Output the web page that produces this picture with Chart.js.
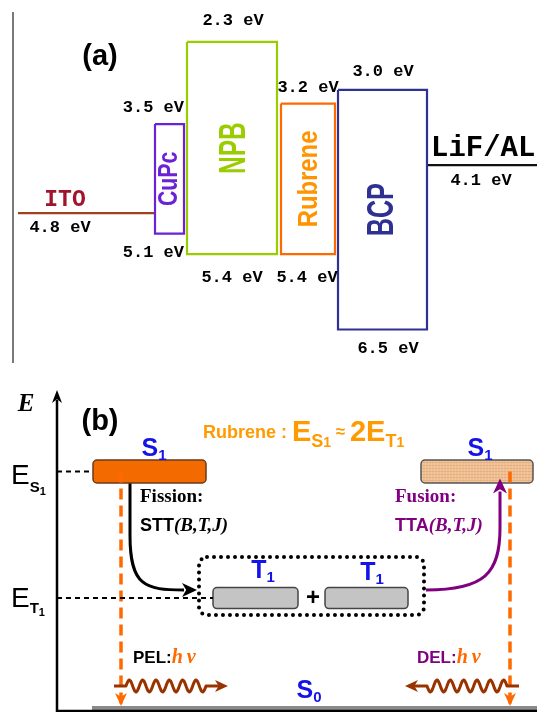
<!DOCTYPE html>
<html>
<head>
<meta charset="utf-8">
<script src="https://cdn.jsdelivr.net/npm/chart.js@4.4.0/dist/chart.umd.min.js"></script>
<style>
  html, body { margin: 0; padding: 0; background: #fff; }
  #diagram { display: block; }
</style>
</head>
<body>
<canvas id="diagram" width="537" height="712"></canvas>
<script>
// panel (a): energy levels of the device layers, in eV
var layerNames = ['CuPc', 'NPB', 'Rubrene', 'BCP'];
var lumoEV = [3.5, 2.3, 3.2, 3.0];
var homoEV = [5.1, 5.4, 5.4, 6.5];
var electrodeNames = ['ITO', 'LiF/AL'];
var workFunctionEV = [4.8, 4.1];

// panel (b): state energies, in units of E(T1)
var stateNames = ['S0', 'T1', 'S1'];
var stateEnergy = [0, 1, 2.15];

// layout (schematic x positions, colours)
var layerLeft = [155, 187, 281, 338];
var layerRight = [184, 277, 335, 427];
var layerColors = ['#6b21d6', '#9acd00', '#ff6a00', '#2e3192'];
var layerTextColors = ['#6b21d6', '#9acd00', '#ff9400', '#2e3192'];
var electrodeLeft = [18, 427];
var electrodeRight = [155, 537];
var electrodeColors = ['#a0401e', '#111111'];

var s1Left = [93, 421], s1Right = [206, 533];
var t1Left = [213, 325], t1Right = [298, 408];
var axisX = 57;
var emissionX = [121, 510];

var BLUE = '#1414e6', ORANGE = '#ff9a00', PURPLE = '#800080', BROWN = '#993300', DASH_ORANGE = '#ff6a00';
var MONO = '"Liberation Mono", "DejaVu Sans Mono", monospace';
var SANS = '"Liberation Sans", Arial, sans-serif';
var SERIF = '"Liberation Serif", "Times New Roman", serif';

function rectPoints(left, right, top, bottom) {
    return [{x: left, y: top}, {x: right, y: top}, {x: right, y: bottom}, {x: left, y: bottom}, {x: left, y: top}];
}

function lineSet(label, axis, pts, color, width, dash) {
    return {
        label: label, yAxisID: axis, data: pts,
        borderColor: color, borderWidth: width, borderDash: dash || [],
        showLine: true, pointRadius: 0, tension: 0, fill: false,
        borderJoinStyle: 'miter', borderCapStyle: 'butt'
    };
}

var datasets = [];
layerNames.forEach(function (name, i) {
    datasets.push(lineSet(name, 'ya', rectPoints(layerLeft[i], layerRight[i], lumoEV[i], homoEV[i]), layerColors[i], 2.2));
});
electrodeNames.forEach(function (name, i) {
    datasets.push(lineSet(name, 'ya', [{x: electrodeLeft[i], y: workFunctionEV[i]}, {x: electrodeRight[i], y: workFunctionEV[i]}], electrodeColors[i], 2.2));
});
// guide lines to the energy axis
datasets.push(lineSet('E_S1', 'yb', [{x: axisX, y: stateEnergy[2]}, {x: s1Left[0], y: stateEnergy[2]}], '#000', 2, [5, 4]));
datasets.push(lineSet('E_T1', 'yb', [{x: axisX, y: stateEnergy[1]}, {x: t1Left[0], y: stateEnergy[1]}], '#000', 2, [5, 4]));
// ground state bar
datasets.push(lineSet('S0', 'yb', [{x: 92, y: stateEnergy[0]}, {x: 537, y: stateEnergy[0]}], '#8a8a8a', 4));
// emission (S1 -> S0) dashed lines
emissionX.forEach(function (x, i) {
    datasets.push(lineSet(i ? 'DEL' : 'PEL', 'yb', [{x: x, y: stateEnergy[2]}, {x: x, y: stateEnergy[0]}], DASH_ORANGE, 3.5, [11, 6]));
});

function rrect(ctx, x, y, w, h, r) {
    ctx.beginPath();
    ctx.moveTo(x + r, y);
    ctx.arcTo(x + w, y, x + w, y + h, r);
    ctx.arcTo(x + w, y + h, x, y + h, r);
    ctx.arcTo(x, y + h, x, y, r);
    ctx.arcTo(x, y, x + w, y, r);
    ctx.closePath();
}

function arrowHead(ctx, x, y, ang, len, hw, color) {
    ctx.save();
    ctx.translate(x, y);
    ctx.rotate(ang);
    ctx.beginPath();
    ctx.moveTo(0, 0);
    ctx.lineTo(-len, -hw);
    ctx.lineTo(-len * 0.72, 0);
    ctx.lineTo(-len, hw);
    ctx.closePath();
    ctx.fillStyle = color;
    ctx.fill();
    ctx.restore();
}

function text(ctx, str, x, y, font, color, align, base) {
    ctx.font = font;
    ctx.fillStyle = color;
    ctx.textAlign = align || 'left';
    ctx.textBaseline = base || 'alphabetic';
    ctx.fillText(str, x, y);
}

// several runs of text (for subscripts / mixed fonts) on one baseline
function runs(ctx, x, y, parts, align) {
    var total = 0;
    ctx.textAlign = 'left';
    ctx.textBaseline = 'alphabetic';
    parts.forEach(function (p) { ctx.font = p[1]; total += ctx.measureText(p[0]).width; });
    var cx = align === 'center' ? x - total / 2 : (align === 'right' ? x - total : x);
    parts.forEach(function (p) {
        ctx.font = p[1];
        ctx.fillStyle = p[2];
        ctx.fillText(p[0], cx, y + (p[3] || 0));
        cx += ctx.measureText(p[0]).width;
    });
}

function vtext(ctx, str, cx, cy, font, color, squash) {
    ctx.save();
    ctx.translate(cx, cy);
    ctx.rotate(-Math.PI / 2);
    ctx.scale(squash, 1);
    text(ctx, str, 0, 0, font, color, 'center', 'middle');
    ctx.restore();
}

function wavyArrow(ctx, xStart, xTip, y, dir) {
    var head = 13;
    var w0 = xStart + dir * 12;
    var w1 = xTip - dir * (head + 9);
    ctx.save();
    ctx.strokeStyle = BROWN;
    ctx.lineWidth = 3;
    ctx.lineJoin = 'round';
    ctx.beginPath();
    ctx.moveTo(xStart, y);
    ctx.lineTo(w0, y);
    var n = 90;
    for (var k = 0; k <= n; k++) {
        var t = k / n;
        ctx.lineTo(w0 + (w1 - w0) * t, y - 6 * Math.sin(t * 6 * 2 * Math.PI));
    }
    ctx.lineTo(xTip - dir * head * 0.7, y);
    ctx.stroke();
    ctx.restore();
    arrowHead(ctx, xTip, y, dir > 0 ? 0 : Math.PI, head, 6, BROWN);
}

var schematicPlugin = {
    id: 'schematic',
    beforeDatasetsDraw: function (chart) {
        var ctx = chart.ctx, yb = chart.scales.yb;
        var yS1 = yb.getPixelForValue(stateEnergy[2]);
        var yT1 = yb.getPixelForValue(stateEnergy[1]);
        ctx.save();
        // dotted frame around the triplet pair
        ctx.strokeStyle = '#000';
        ctx.lineWidth = 4;
        ctx.lineCap = 'round';
        ctx.setLineDash([0, 7]);
        rrect(ctx, 199, yT1 - 41, 225, 58, 8);
        ctx.stroke();
        ctx.setLineDash([]);
        // S1 (fission side)
        rrect(ctx, s1Left[0], yS1 - 11.5, s1Right[0] - s1Left[0], 23, 4);
        ctx.fillStyle = '#f26a00';
        ctx.fill();
        ctx.strokeStyle = '#6b3a1a';
        ctx.lineWidth = 1.5;
        ctx.stroke();
        // S1 (fusion side), hatched tan
        rrect(ctx, s1Left[1], yS1 - 11.5, s1Right[1] - s1Left[1], 23, 4);
        ctx.fillStyle = '#f3c89c';
        ctx.fill();
        ctx.save();
        ctx.clip();
        ctx.strokeStyle = 'rgba(214,150,100,0.45)';
        ctx.lineWidth = 0.8;
        for (var gx = s1Left[1]; gx < s1Right[1]; gx += 3) {
            ctx.beginPath(); ctx.moveTo(gx, yS1 - 12); ctx.lineTo(gx, yS1 + 12); ctx.stroke();
        }
        for (var gy = yS1 - 12; gy < yS1 + 12; gy += 3) {
            ctx.beginPath(); ctx.moveTo(s1Left[1], gy); ctx.lineTo(s1Right[1], gy); ctx.stroke();
        }
        ctx.restore();
        rrect(ctx, s1Left[1], yS1 - 11.5, s1Right[1] - s1Left[1], 23, 4);
        ctx.strokeStyle = '#555';
        ctx.lineWidth = 1.5;
        ctx.stroke();
        // T1 + T1
        for (var i = 0; i < 2; i++) {
            rrect(ctx, t1Left[i], yT1 - 10.5, t1Right[i] - t1Left[i], 21, 4);
            ctx.fillStyle = '#c4c4c4';
            ctx.fill();
            ctx.strokeStyle = '#444';
            ctx.lineWidth = 1.5;
            ctx.stroke();
        }
        ctx.restore();
    },
    afterDatasetsDraw: function (chart) {
        var ctx = chart.ctx, ya = chart.scales.ya, yb = chart.scales.yb;
        var YA = function (v) { return ya.getPixelForValue(v); };
        var YB = function (v) { return yb.getPixelForValue(v); };
        ctx.save();

        // ---------- panel (a) ----------
        ctx.strokeStyle = '#7a7a7a';
        ctx.lineWidth = 2;
        ctx.beginPath(); ctx.moveTo(13, 12); ctx.lineTo(13, 363); ctx.stroke();
        text(ctx, '(a)', 100, 65, 'bold 29px ' + SANS, '#000', 'center');

        var ev = 'bold 17px ' + MONO;
        var fmt = function (v) { return v.toFixed(1) + ' eV'; };
        // CuPc
        text(ctx, fmt(lumoEV[0]), 184, YA(lumoEV[0]) - 16, ev, '#000', 'right', 'middle');
        text(ctx, fmt(homoEV[0]), 184, YA(homoEV[0]) + 19, ev, '#000', 'right', 'middle');
        // NPB, Rubrene, BCP
        text(ctx, fmt(lumoEV[1]), 233, YA(lumoEV[1]) - 21, ev, '#000', 'center', 'middle');
        text(ctx, fmt(homoEV[1]), 232, YA(homoEV[1]) + 24, ev, '#000', 'center', 'middle');
        text(ctx, fmt(lumoEV[2]), 308, YA(lumoEV[2]) - 16, ev, '#000', 'center', 'middle');
        text(ctx, fmt(homoEV[2]), 307, YA(homoEV[2]) + 24, ev, '#000', 'center', 'middle');
        text(ctx, fmt(lumoEV[3]), 383, YA(lumoEV[3]) - 18, ev, '#000', 'center', 'middle');
        text(ctx, fmt(homoEV[3]), 388, YA(homoEV[3]) + 19, ev, '#000', 'center', 'middle');
        // electrodes
        text(ctx, electrodeNames[0], 65, YA(workFunctionEV[0]) - 13, 'bold 23px ' + MONO, '#a0142c', 'center', 'middle');
        text(ctx, fmt(workFunctionEV[0]), 60, YA(workFunctionEV[0]) + 15, ev, '#000', 'center', 'middle');
        text(ctx, electrodeNames[1], 431, YA(workFunctionEV[1]) - 16, 'bold 29px ' + MONO, '#000', 'left', 'middle');
        text(ctx, fmt(workFunctionEV[1]), 481, YA(workFunctionEV[1]) + 16, ev, '#000', 'center', 'middle');
        // layer names, rotated
        var vfonts = ['bold 28px ', 'bold 36px ', 'bold 28px ', 'bold 37px '];
        var squash = [0.76, 0.68, 0.85, 0.68];
        var dx = [0, 3, 1, 0];
        layerNames.forEach(function (name, i) {
            var cx = (layerLeft[i] + layerRight[i]) / 2 + dx[i];
            var cy = (YA(lumoEV[i]) + YA(homoEV[i])) / 2;
            vtext(ctx, name, cx, cy, vfonts[i] + SANS, layerTextColors[i], squash[i]);
        });

        // ---------- panel (b) ----------
        var yS1 = YB(stateEnergy[2]), yT1 = YB(stateEnergy[1]), yS0 = YB(stateEnergy[0]);
        // energy axis
        ctx.strokeStyle = '#000';
        ctx.lineWidth = 2.5;
        ctx.beginPath(); ctx.moveTo(axisX, 712); ctx.lineTo(axisX, 400); ctx.stroke();
        arrowHead(ctx, axisX, 390, -Math.PI / 2, 13, 5, '#000');
        ctx.beginPath(); ctx.moveTo(axisX - 1, 711); ctx.lineTo(537, 711); ctx.stroke();
        text(ctx, 'E', 26, 411, 'italic bold 25px ' + SERIF, '#000', 'center');
        text(ctx, '(b)', 100, 430, 'bold 29px ' + SANS, '#000', 'center');

        // axis labels E_S1, E_T1
        runs(ctx, 11, yS1 + 12, [['E', '28px ' + SANS, '#000'], ['S', 'bold 15px ' + SANS, '#000', 8], ['1', 'bold 11px ' + SANS, '#000', 11]]);
        runs(ctx, 11, yT1 + 9, [['E', '28px ' + SANS, '#000'], ['T', 'bold 15px ' + SANS, '#000', 6], ['1', 'bold 11px ' + SANS, '#000', 9]]);

        // state labels
        var lab = 'bold 25px ' + SANS, sub = 'bold 15px ' + SANS;
        runs(ctx, 154, yS1 - 16, [['S', lab, BLUE], ['1', sub, BLUE, 4]], 'center');
        runs(ctx, 480, yS1 - 16, [['S', lab, BLUE], ['1', sub, BLUE, 4]], 'center');
        runs(ctx, 263, yT1 - 20, [['T', lab, BLUE], ['1', sub, BLUE, 4]], 'center');
        runs(ctx, 372, yT1 - 18, [['T', lab, BLUE], ['1', sub, BLUE, 4]], 'center');
        runs(ctx, 309, yS0 - 10, [['S', lab, BLUE], ['0', sub, BLUE, 4]], 'center');
        text(ctx, '+', 313, yT1, 'bold 24px ' + SANS, '#000', 'center', 'middle');

        // Rubrene : E_S1 ≈ 2E_T1
        runs(ctx, 203, 441, [
            ['Rubrene', 'bold 18px ' + SANS, ORANGE, -3],
            [' : ', 'bold 18px ' + SANS, ORANGE, -3],
            ['E', 'bold 29px ' + SANS, ORANGE],
            ['S', 'bold 18px ' + SANS, ORANGE, 6],
            ['1', 'bold 14px ' + SANS, ORANGE, 6],
            [' \u2248 ', 'bold 17px ' + SANS, ORANGE, -4],
            ['2E', 'bold 29px ' + SANS, ORANGE],
            ['T', 'bold 18px ' + SANS, ORANGE, 6],
            ['1', 'bold 14px ' + SANS, ORANGE, 6]
        ]);

        // fission / fusion labels
        text(ctx, 'Fission:', 140, 502, 'bold 19px ' + SERIF, '#000');
        runs(ctx, 140, 531, [['STT', 'bold 18px ' + SANS, '#000'], ['(B,T,J)', 'italic bold 19px ' + SERIF, '#000']]);
        text(ctx, 'Fusion:', 395, 502, 'bold 19px ' + SERIF, PURPLE);
        runs(ctx, 395, 531, [['TTA', 'bold 18px ' + SANS, PURPLE], ['(B,T,J)', 'italic bold 19px ' + SERIF, PURPLE]]);

        // fission arrow
        ctx.strokeStyle = '#000';
        ctx.lineWidth = 3;
        ctx.beginPath();
        ctx.moveTo(130, yS1 + 12);
        ctx.lineTo(130, yS1 + 64);
        ctx.bezierCurveTo(130, yT1 - 12, 145, yT1 - 8, 184, yT1 - 8);
        ctx.stroke();
        arrowHead(ctx, 197, yT1 - 8, 0, 15, 7, '#000');

        // fusion arrow
        ctx.strokeStyle = PURPLE;
        ctx.beginPath();
        ctx.moveTo(426, yT1 - 8);
        ctx.bezierCurveTo(485, yT1 - 8, 500, yT1 - 25, 500, yT1 - 70);
        ctx.lineTo(500, yS1 + 20);
        ctx.stroke();
        arrowHead(ctx, 500, yS1 + 7, -Math.PI / 2, 15, 7, PURPLE);

        // emission arrowheads
        emissionX.forEach(function (x) {
            arrowHead(ctx, x, yS0 - 2, Math.PI / 2, 13, 6, DASH_ORANGE);
        });

        // photons
        runs(ctx, 133, 663, [['PEL:', 'bold 17px ' + SANS, '#000'], ['h\u2009\u03bd', 'italic bold 20px ' + SERIF, DASH_ORANGE]]);
        runs(ctx, 417, 663, [['DEL:', 'bold 17px ' + SANS, PURPLE], ['h\u2009\u03bd', 'italic bold 20px ' + SERIF, DASH_ORANGE]]);
        wavyArrow(ctx, 114, 228, 686, 1);
        wavyArrow(ctx, 519, 405, 686, -1);

        ctx.restore();
    }
};

new Chart(document.getElementById('diagram'), {
    type: 'scatter',
    data: { datasets: datasets },
    options: {
        responsive: false,
        animation: false,
        layout: { padding: 0 },
        plugins: { legend: { display: false }, tooltip: { enabled: false } },
        scales: {
            x: { type: 'linear', min: 0, max: 537, display: false },
            ya: { type: 'linear', reverse: true, min: 1.687, max: 12.087, display: false },
            yb: { type: 'linear', min: -0.036, max: 6.436, display: false }
        }
    },
    plugins: [schematicPlugin]
});
</script>
</body>
</html>
